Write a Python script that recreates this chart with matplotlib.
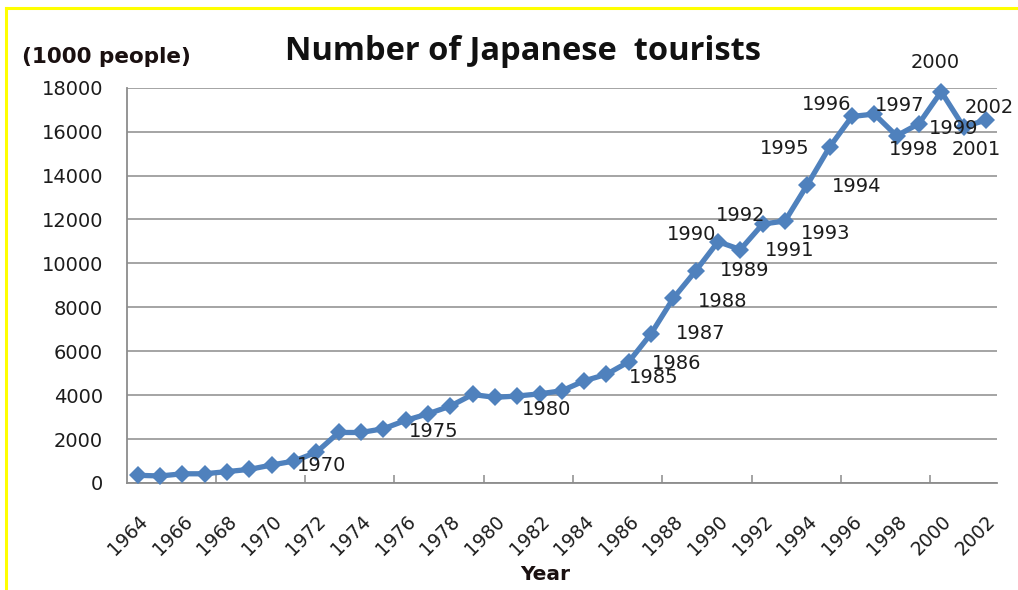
import numpy as np
import matplotlib
matplotlib.use("Agg")
import matplotlib.pyplot as plt
from matplotlib.lines import Line2D
from matplotlib.ticker import FixedLocator

# Japanese overseas travellers per year, in thousands
years = list(range(1964, 2003))
tourists = [350, 320, 420, 420, 520, 620, 820, 1000, 1400, 2300,
            2300, 2470, 2850, 3150, 3500, 4030, 3900, 3960, 4060, 4200,
            4650, 4950, 5520, 6800, 8420, 9660, 10990, 10630, 11790, 11930,
            13580, 15300, 16690, 16800, 15810, 16360, 17820, 16220, 16520]
labelled_years = [1970, 1975, 1980, 1985, 1986, 1987, 1988, 1989, 1990, 1991,
                  1992, 1993, 1994, 1995, 1996, 1997, 1998, 1999, 2000, 2001, 2002]
y_ticks = [0, 2000, 4000, 6000, 8000, 10000, 12000, 14000, 16000, 18000]

# where each year label sits relative to its marker (pixels, +y is up)
label_offsets = {
    1970: (50, -1), 1975: (50, -3), 1980: (52, -12), 1985: (47, -3),
    1986: (48, -2), 1987: (50, 0), 1988: (49, -3), 1989: (49, 0),
    1990: (-26, 7), 1991: (49, -1), 1992: (-22, 9), 1993: (41, -12),
    1994: (49, -2), 1995: (-45, -2), 1996: (-25, 12), 1997: (25, 9),
    1998: (17, -14), 1999: (35, -5), 2000: (-6, 29), 2001: (13, -23),
    2002: (3, 13),
}

BLUE = "#4f81bd"
TEXT = "#1c1c1c"
GRID = "#8c8c8c"

W, H = 1018, 590
fig = plt.figure(figsize=(W / 100, H / 100), dpi=100)
fig.patch.set_facecolor("white")
ax = fig.add_axes([126.7 / W, 1 - 483 / H, (997 - 126.7) / W, (483 - 87.7) / H])

x = np.arange(len(years))
ax.plot(x, tourists, color=BLUE, lw=3.8, marker="D", markersize=9,
        markeredgewidth=0, solid_joinstyle="miter", zorder=3, clip_on=False)

ax.set_xlim(-0.5, len(years) - 0.5)
ax.set_ylim(0, 18000)
ax.set_yticks(y_ticks)
ax.set_yticklabels([str(v) for v in y_ticks])
ax.grid(axis="y", color=GRID, lw=1.1)
ax.set_axisbelow(True)

# every other year labelled, tick marks between groups of four categories
ax.set_xticks(x[::2])
ax.set_xticklabels([str(y) for y in years[::2]], rotation=45, ha="right",
                   rotation_mode="anchor")
ax.xaxis.set_minor_locator(FixedLocator(np.arange(3.5, len(years) - 1, 4)))
ax.tick_params(axis="x", which="major", length=0, pad=21, labelsize=13.5,
               labelcolor=TEXT)
ax.tick_params(axis="x", which="minor", direction="in", length=6,
               color=GRID, width=1.1)
ax.tick_params(axis="y", length=0, pad=17, labelsize=14, labelcolor=TEXT)

for side in ["top", "right"]:
    ax.spines[side].set_visible(False)
for side in ["left", "bottom"]:
    ax.spines[side].set_color(GRID)
    ax.spines[side].set_linewidth(1.3)

for yr in labelled_years:
    i = years.index(yr)
    ax.annotate(str(yr), xy=(i, tourists[i]), xytext=label_offsets[yr],
                textcoords="offset pixels", ha="center", va="center",
                fontsize=14, color=TEXT, zorder=4)

fig.text(523 / W, 1 - 51 / H, "Number of Japanese  tourists",
         fontsize=23.5, fontweight="bold", family="Open Sans",
         ha="center", va="center", color="#111111")
fig.text(22 / W, 1 - 57 / H, "(1000 people)", fontsize=15.5,
         fontweight="bold", family="DejaVu Sans", ha="left", va="center",
         color="#1a1010")
fig.text(545 / W, 1 - 575 / H, "Year", fontsize=14.5, fontweight="bold",
         family="DejaVu Sans", ha="center", va="center", color="#1a1010")

# yellow frame along the top and left edges
fig.add_artist(Line2D([6 / W, 6 / W], [0, 1 - 8 / H], color="#ffff00",
                      lw=2.2, transform=fig.transFigure))
fig.add_artist(Line2D([6 / W, 1], [1 - 8 / H, 1 - 8 / H], color="#ffff00",
                      lw=2.2, transform=fig.transFigure))

fig.savefig("out.png", dpi=100)
